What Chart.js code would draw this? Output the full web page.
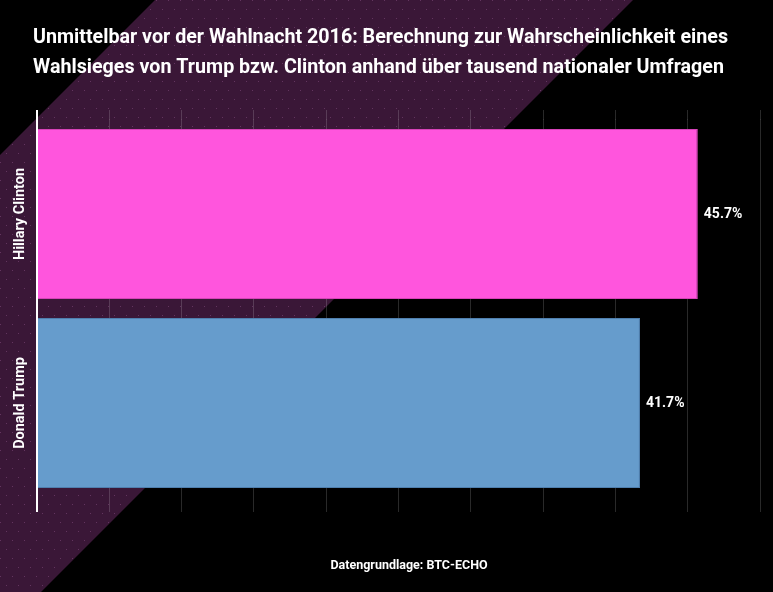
<!DOCTYPE html>
<html>
<head>
<meta charset="utf-8">
<script src="https://cdn.jsdelivr.net/npm/chart.js@4/dist/chart.umd.min.js"></script>
<style>
  html, body { margin: 0; padding: 0; background: #000; }
  #wrap { width: 773px; height: 592px; position: relative; }
</style>
</head>
<body>
<div id="wrap"><canvas id="c" width="773" height="592"></canvas></div>
<script>
const titleLines = [
  "Unmittelbar vor der Wahlnacht 2016: Berechnung zur Wahrscheinlichkeit eines",
  "Wahlsieges von Trump bzw. Clinton anhand über tausend nationaler Umfragen"
];
const sourceText = "Datengrundlage: BTC-ECHO";
const categories = ["Hillary Clinton", "Donald Trump"];
const values = [45.7, 41.7];
const barColors = ["#ff55dd", "#669ccc"];
const barBorders = ["#d743b9", "#4f7fae"];
const axisMin = 0, axisMax = 50, axisStep = 5;

const FONT = "Roboto, 'Noto Sans', sans-serif";

const bgPlugin = {
  id: 'bg',
  beforeDraw(chart) {
    const ctx = chart.ctx, w = chart.width, h = chart.height;
    ctx.save();
    ctx.fillStyle = '#000';
    ctx.fillRect(0, 0, w, h);
    ctx.beginPath();
    ctx.moveTo(155, 0);
    ctx.lineTo(633, 0);
    ctx.lineTo(633 - h, h);
    ctx.lineTo(155 - h, h);
    ctx.closePath();
    ctx.fillStyle = '#3a1737';
    ctx.fill();
    ctx.clip();
    ctx.fillStyle = 'rgba(150,90,145,0.45)';
    for (let y = 0, r = 0; y < h; y += 9, r++) {
      for (let x = (r % 2) * 6; x < w; x += 12) {
        ctx.fillRect(x, y, 1, 1);
      }
    }
    ctx.restore();
  }
};

const textPlugin = {
  id: 'texts',
  afterDraw(chart) {
    const ctx = chart.ctx;
    ctx.save();
    // title
    ctx.fillStyle = '#fff';
    ctx.font = "bold 20.5px " + FONT;
    ctx.textBaseline = 'alphabetic';
    ctx.textAlign = 'left';
    const w1 = ctx.measureText(titleLines[0]).width;
    const sx = 695 / w1;
    [42.8, 72.8].forEach((y, i) => {
      ctx.save();
      ctx.translate(33, y);
      ctx.scale(sx, 1);
      ctx.fillText(titleLines[i], 0, 0);
      ctx.restore();
    });
    // category labels
    const yScale = chart.scales.y;
    ctx.font = "bold 14.5px " + FONT;
    ctx.textAlign = 'center';
    ctx.textBaseline = 'middle';
    categories.forEach((c, i) => {
      const py = yScale.getPixelForValue(i);
      ctx.save();
      ctx.translate(20.5, py);
      ctx.rotate(-Math.PI / 2);
      ctx.fillText(c, 0, 0);
      ctx.restore();
    });
    // value labels
    const meta = chart.getDatasetMeta(0);
    ctx.font = "bold 14px " + FONT;
    ctx.textAlign = 'left';
    meta.data.forEach((bar, i) => {
      ctx.fillText(values[i].toFixed(1) + '%', bar.x + 6, bar.y);
    });
    // source
    ctx.font = "bold 12.5px " + FONT;
    ctx.textAlign = 'center';
    ctx.fillText(sourceText, 409, 566);
    ctx.restore();
  }
};

const gridColor = (c) => c.index === 0 ? '#ffffff' : 'rgba(255,255,255,0.16)';
const gridWidth = (c) => c.index === 0 ? 2 : 1;

new Chart(document.getElementById('c'), {
  type: 'bar',
  data: {
    labels: categories,
    datasets: [{
      data: values,
      backgroundColor: barColors,
      borderColor: barBorders,
      borderWidth: 1,
      categoryPercentage: 1.0,
      barPercentage: 0.9
    }]
  },
  options: {
    indexAxis: 'y',
    responsive: false,
    animation: false,
    devicePixelRatio: 1,
    layout: { padding: { left: 37, right: 13, top: 110, bottom: 80 } },
    plugins: { legend: { display: false }, title: { display: false }, tooltip: { enabled: false } },
    scales: {
      x: {
        position: 'bottom',
        min: axisMin, max: axisMax,
        ticks: { display: false, stepSize: axisStep },
        border: { display: false },
        grid: { color: gridColor, lineWidth: gridWidth, tickLength: 14.5, drawTicks: true }
      },
      x2: {
        position: 'top',
        min: axisMin, max: axisMax,
        ticks: { display: false, stepSize: axisStep },
        border: { display: false },
        grid: { color: gridColor, lineWidth: gridWidth, tickLength: 9.5, drawOnChartArea: false, drawTicks: true }
      },
      y: {
        ticks: { display: false },
        border: { display: false },
        grid: { display: false, drawTicks: false }
      }
    }
  },
  plugins: [bgPlugin, textPlugin]
});
</script>
</body>
</html>
